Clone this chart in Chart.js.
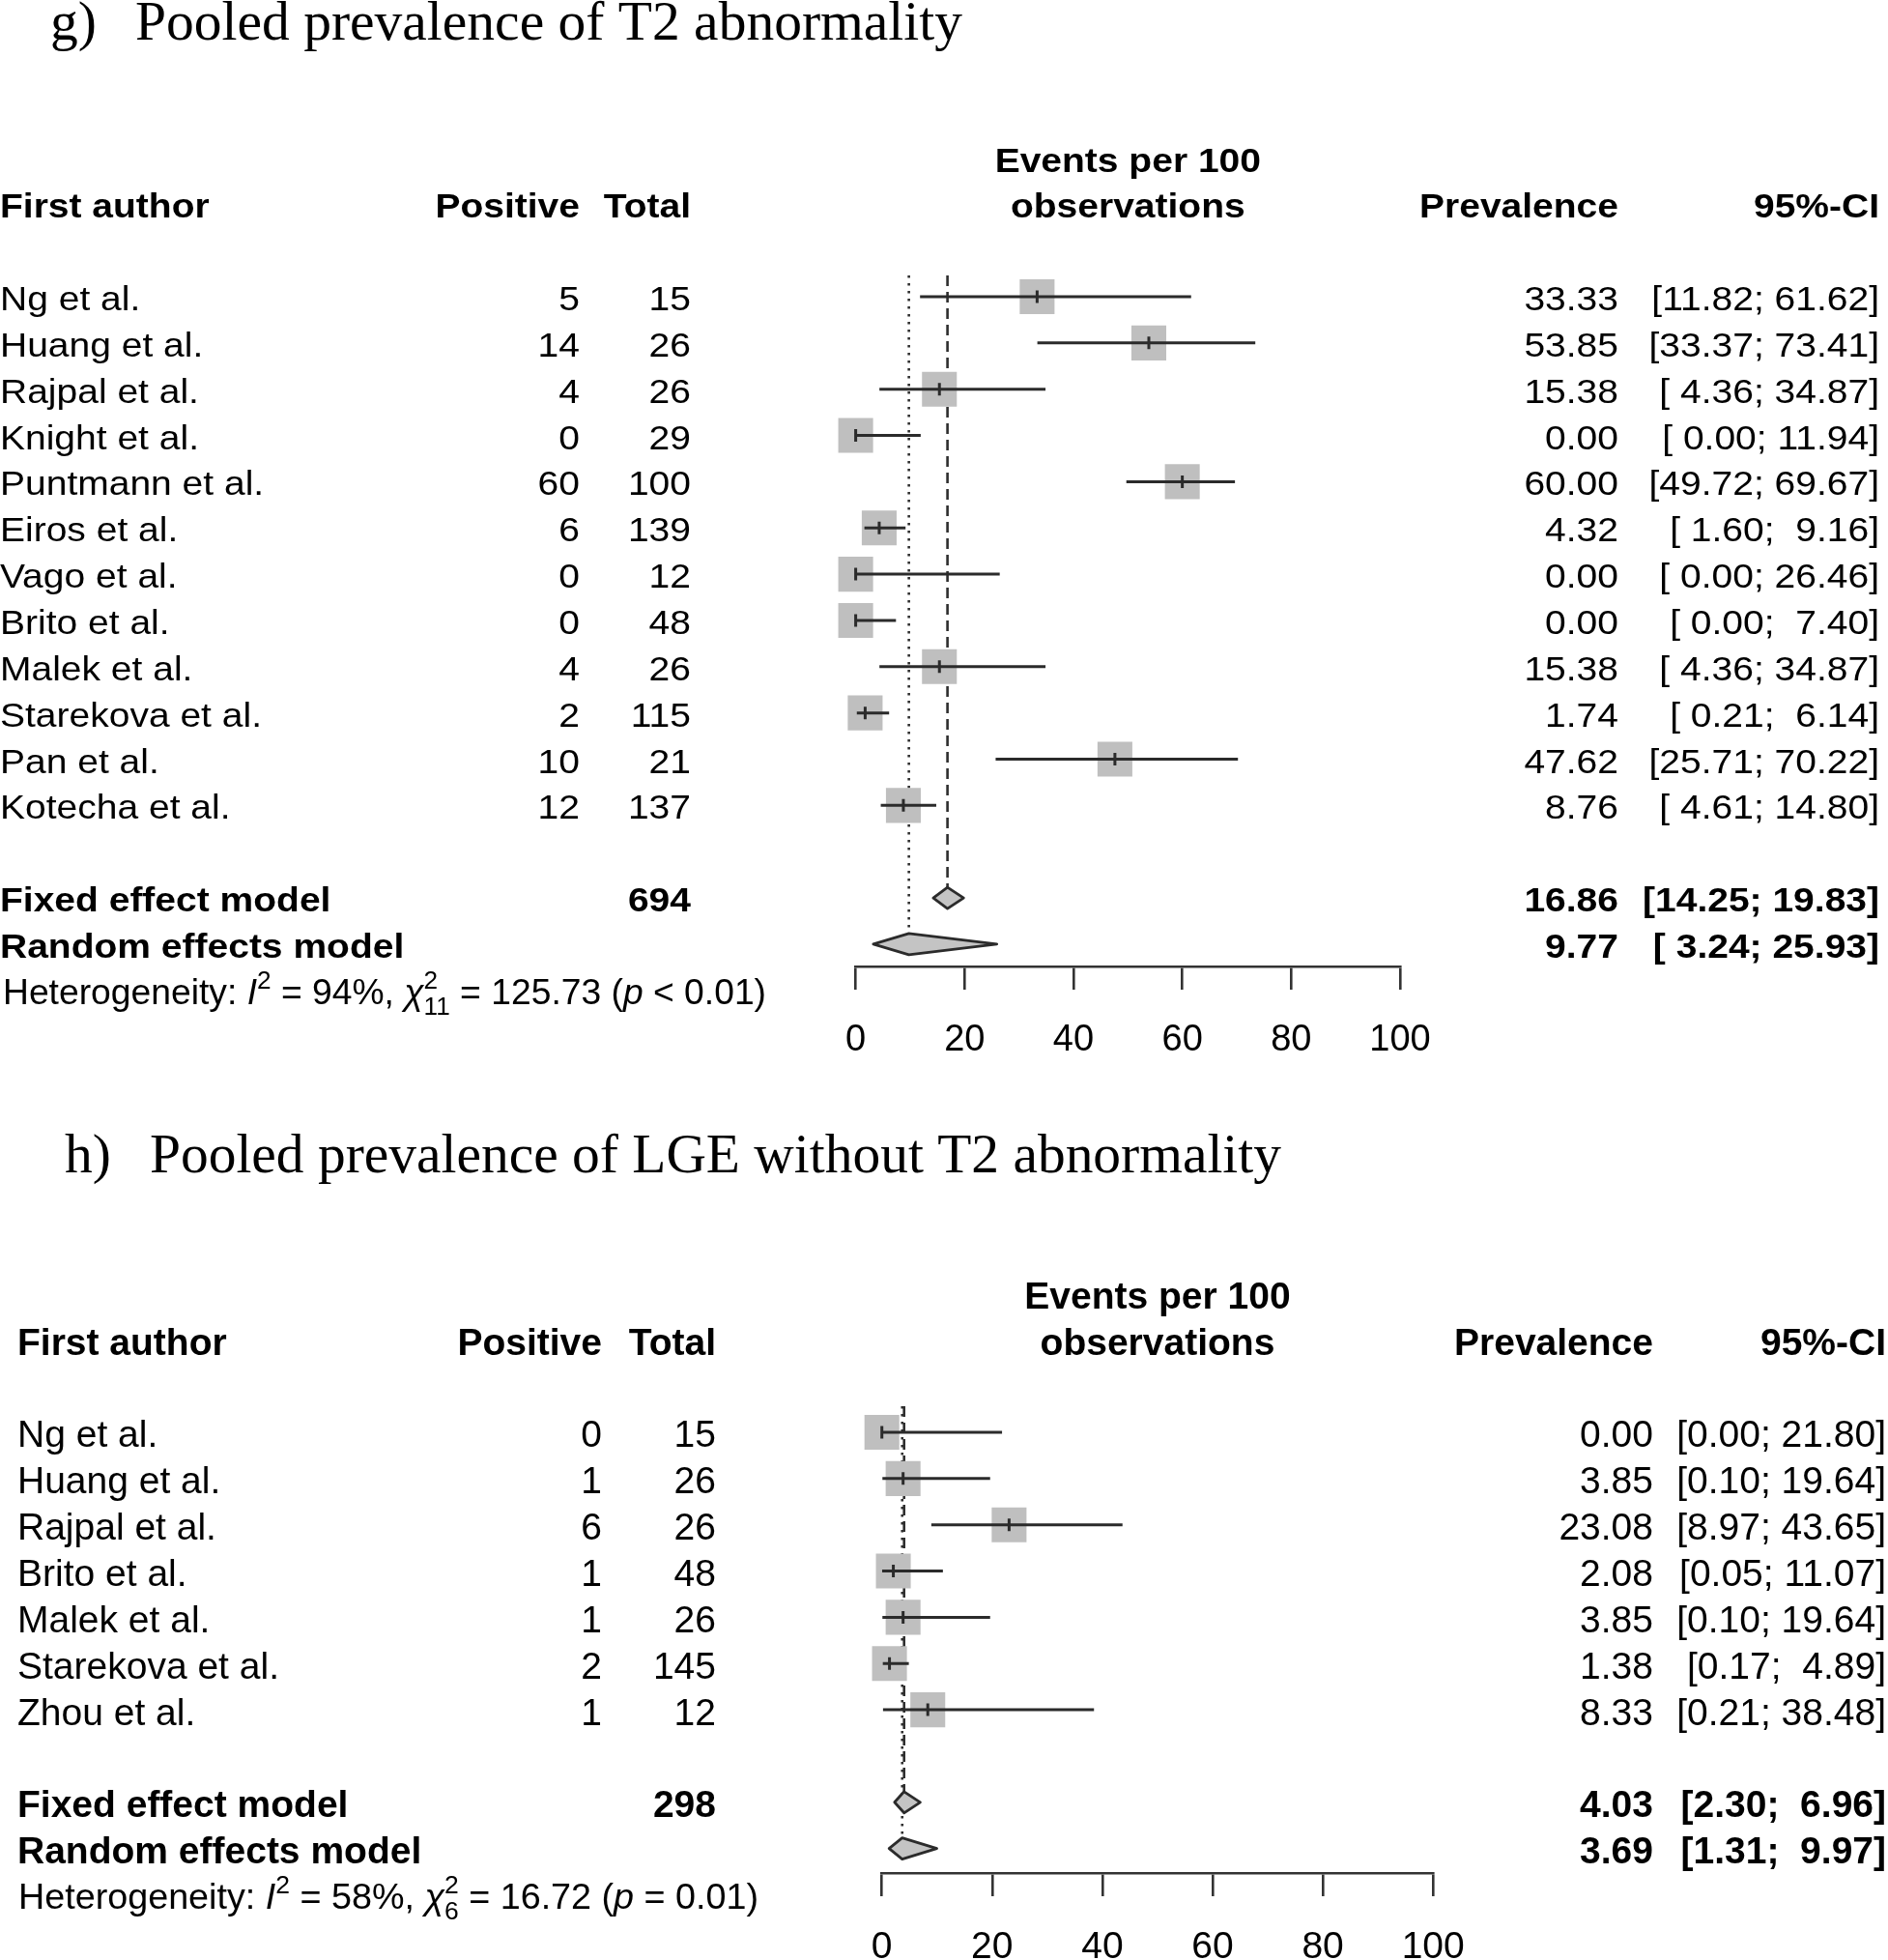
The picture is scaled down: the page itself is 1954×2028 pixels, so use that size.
<!DOCTYPE html>
<html>
<head>
<meta charset="utf-8">
<script src="https://cdn.jsdelivr.net/npm/chart.js@4.4.1/dist/chart.umd.min.js"></script>
<style>
  html, body { margin: 0; padding: 0; background: #fff; }
  #wrap { position: relative; width: 1954px; height: 2028px; overflow: hidden; }
  canvas { position: absolute; left: 0; top: 0; }
</style>
</head>
<body>
<div id="wrap">
  <canvas id="chartG" width="1954" height="2028"></canvas>
  <canvas id="chartH" width="1954" height="2028"></canvas>
</div>
<script>
// --- g) T2 abnormality ---
const authorsG = ['Ng et al.', 'Huang et al.', 'Rajpal et al.', 'Knight et al.', 'Puntmann et al.', 'Eiros et al.',
                  'Vago et al.', 'Brito et al.', 'Malek et al.', 'Starekova et al.', 'Pan et al.', 'Kotecha et al.'];
const positiveG = [5, 14, 4, 0, 60, 6, 0, 0, 4, 2, 10, 12];
const totalG = [15, 26, 26, 29, 100, 139, 12, 48, 26, 115, 21, 137];
const prevG = [33.33, 53.85, 15.38, 0.00, 60.00, 4.32, 0.00, 0.00, 15.38, 1.74, 47.62, 8.76];
const lowerG = [11.82, 33.37, 4.36, 0.00, 49.72, 1.60, 0.00, 0.00, 4.36, 0.21, 25.71, 4.61];
const upperG = [61.62, 73.41, 34.87, 11.94, 69.67, 9.16, 26.46, 7.40, 34.87, 6.14, 70.22, 14.80];
const fixedG = [16.86, 14.25, 19.83];
const randomG = [9.77, 3.24, 25.93];
const sumG = 694;
const hetG = ['94%', '11', '125.73', '< 0.01'];

// --- h) LGE without T2 abnormality ---
const authorsH = ['Ng et al.', 'Huang et al.', 'Rajpal et al.', 'Brito et al.', 'Malek et al.', 'Starekova et al.', 'Zhou et al.'];
const positiveH = [0, 1, 6, 1, 1, 2, 1];
const totalH = [15, 26, 26, 48, 26, 145, 12];
const prevH = [0.00, 3.85, 23.08, 2.08, 3.85, 1.38, 8.33];
const lowerH = [0.00, 0.10, 8.97, 0.05, 0.10, 0.17, 0.21];
const upperH = [21.80, 19.64, 43.65, 11.07, 19.64, 4.89, 38.48];
const fixedH = [4.03, 2.30, 6.96];
const randomH = [3.69, 1.31, 9.97];
const sumH = 298;
const hetH = ['58%', '6', '16.72', '= 0.01'];

const axisTicks = [0, 20, 40, 60, 80, 100];

const SANS = '"Liberation Sans", Arial, sans-serif';
const SERIF = '"Liberation Serif", "Times New Roman", serif';
const W = 1954, H = 2028;

// panel layout (pixels)
const layoutG = {
  left: 885.6, right: 1449, top: 285, axisY: 1000, firstRow: 307, rowH: 47.85,
  name: 0, pos: 600, tot: 715, prev: 1675, ci: 1945,
  font: 39, sy: 0.9, tickFont: 38, hetFont: 37, hetX: 3, hetW: 790,
  titleSize: 57, titleX1: 52, titleX2: 140, titleY: 41, titleW: 856
};
const layoutH = {
  left: 912.7, right: 1483.2, top: 1455, axisY: 1938, firstRow: 1482, rowH: 47.85,
  name: 18, pos: 623, tot: 741, prev: 1711, ci: 1952,
  font: 39, sy: 1, tickFont: 39, hetFont: 37, hetX: 19, hetW: 766,
  titleSize: 57, titleX1: 67, titleX2: 155, titleY: 1213, titleW: 1171
};

function drawText(ctx, s, x, y, o) {
  ctx.save();
  ctx.font = (o.style ? o.style + ' ' : '') + (o.weight ? o.weight + ' ' : '') + o.size + 'px ' + (o.family || SANS);
  ctx.fillStyle = '#000';
  ctx.textAlign = o.align || 'left';
  ctx.textBaseline = 'alphabetic';
  ctx.translate(x, y);
  ctx.scale(o.sx || 1, o.sy || 1);
  ctx.fillText(s, 0, 0);
  ctx.restore();
}

function drawHet(ctx, x, y, het, size, target, sy) {
  const small = Math.round(size * 0.7);
  const f = (st, s) => (st ? st + ' ' : '') + s + 'px ' + SANS;
  const items = [
    { t: 'Heterogeneity: ', f: f('', size) },
    { t: 'I', f: f('italic', size) },
    { sup: '2' },
    { t: ' = ' + het[0] + ', ', f: f('', size) },
    { t: '\u03c7', f: f('italic', size) },
    { sup: '2', sub: het[1] },
    { t: ' = ' + het[2] + ' (', f: f('', size) },
    { t: 'p', f: f('italic', size) },
    { t: ' ' + het[3] + ')', f: f('', size) }
  ];
  let total = 0;
  items.forEach(it => {
    if (it.t !== undefined) { ctx.font = it.f; it.w = ctx.measureText(it.t).width; }
    else {
      ctx.font = f('', small);
      it.w = Math.max(ctx.measureText(it.sup).width, it.sub ? ctx.measureText(it.sub).width : 0);
    }
    total += it.w;
  });
  const sx = target / total;
  ctx.save();
  ctx.translate(x, y);
  ctx.scale(sx, sy);
  ctx.fillStyle = '#000';
  ctx.textBaseline = 'alphabetic';
  ctx.textAlign = 'left';
  let cx = 0;
  items.forEach(it => {
    if (it.t !== undefined) { ctx.font = it.f; ctx.fillText(it.t, cx, 0); }
    else {
      ctx.font = f('', small);
      ctx.fillText(it.sup, cx, -size * 0.42);
      if (it.sub) ctx.fillText(it.sub, cx, size * 0.3);
    }
    cx += it.w;
  });
  ctx.restore();
}

// R style "[ 4.36; 34.87]" formatting
function ciText(lo, hi, wLo, wHi) {
  return '[' + lo.toFixed(2).padStart(wLo) + '; ' + hi.toFixed(2).padStart(wHi) + ']';
}

function forestPlugin(P, L) {
  const n = P.authors.length;
  const DH = 11;
  const allLo = P.lower.concat([P.fixed[1], P.random[1]]);
  const allHi = P.upper.concat([P.fixed[2], P.random[2]]);
  const wLo = Math.max(...allLo.map(v => v.toFixed(2).length));
  const wHi = Math.max(...allHi.map(v => v.toFixed(2).length));

  return {
    id: 'forest' + P.key,
    beforeDatasetsDraw(chart) {
      const { ctx, chartArea } = chart;
      const xs = chart.scales.x, ys = chart.scales.y;
      const refs = [
        { est: P.fixed[0], row: n + 1, dash: [11, 6] },
        { est: P.random[0], row: n + 2, dash: [2.5, 5.5] }
      ];
      ctx.save();
      ctx.strokeStyle = '#2e2e2e';
      ctx.lineWidth = 2.6;
      refs.forEach(r => {
        const x = xs.getPixelForValue(r.est);
        ctx.setLineDash(r.dash);
        ctx.beginPath();
        ctx.moveTo(x, chartArea.top);
        ctx.lineTo(x, ys.getPixelForValue(r.row) - DH);
        ctx.stroke();
      });
      ctx.restore();
    },
    afterDatasetsDraw(chart) {
      const ctx = chart.ctx;
      const xs = chart.scales.x, ys = chart.scales.y;
      ctx.save();
      ctx.strokeStyle = '#2b2b2b';
      ctx.lineWidth = 3;
      for (let i = 0; i < n; i++) {
        const y = ys.getPixelForValue(i);
        ctx.beginPath();
        ctx.moveTo(xs.getPixelForValue(P.lower[i]), y);
        ctx.lineTo(xs.getPixelForValue(P.upper[i]), y);
        const xe = xs.getPixelForValue(P.prev[i]);
        ctx.moveTo(xe, y - 6.5);
        ctx.lineTo(xe, y + 6.5);
        ctx.stroke();
      }
      ctx.lineWidth = 2.8;
      ctx.lineJoin = 'round';
      [[P.fixed, n + 1], [P.random, n + 2]].forEach(([m, row]) => {
        const y = ys.getPixelForValue(row);
        const xe = xs.getPixelForValue(m[0]);
        ctx.beginPath();
        ctx.moveTo(xs.getPixelForValue(m[1]), y);
        ctx.lineTo(xe, y - DH);
        ctx.lineTo(xs.getPixelForValue(m[2]), y);
        ctx.lineTo(xe, y + DH);
        ctx.closePath();
        ctx.fillStyle = '#c4c4c4';
        ctx.fill();
        ctx.stroke();
      });
      ctx.restore();
    },
    afterDraw(chart) {
      const ctx = chart.ctx;
      const xs = chart.scales.x, ys = chart.scales.y;
      const fs = L.font, sy = L.sy;
      const base = r => ys.getPixelForValue(r) + 0.716 * fs * sy / 2 + 1.5;
      const reg = { size: fs, sy: sy };
      const bold = { size: fs, sy: sy, weight: 'bold' };

      // title
      ctx.font = L.titleSize + 'px ' + SERIF;
      const tsx = L.titleW / ctx.measureText(P.title).width;
      drawText(ctx, P.titleLabel, L.titleX1, L.titleY, { family: SERIF, size: L.titleSize, sx: tsx });
      drawText(ctx, P.title, L.titleX2, L.titleY, { family: SERIF, size: L.titleSize, sx: tsx });

      // headers
      const mid = xs.getPixelForValue(50);
      drawText(ctx, 'Events per 100', mid, base(-3), { ...bold, align: 'center' });
      drawText(ctx, 'observations', mid, base(-2), { ...bold, align: 'center' });
      drawText(ctx, 'First author', L.name, base(-2), bold);
      drawText(ctx, 'Positive', L.pos, base(-2), { ...bold, align: 'right' });
      drawText(ctx, 'Total', L.tot, base(-2), { ...bold, align: 'right' });
      drawText(ctx, 'Prevalence', L.prev, base(-2), { ...bold, align: 'right' });
      drawText(ctx, '95%-CI', L.ci, base(-2), { ...bold, align: 'right' });

      // study rows
      for (let i = 0; i < n; i++) {
        const y = base(i);
        drawText(ctx, P.authors[i], L.name, y, reg);
        drawText(ctx, String(P.positive[i]), L.pos, y, { ...reg, align: 'right' });
        drawText(ctx, String(P.total[i]), L.tot, y, { ...reg, align: 'right' });
        drawText(ctx, P.prev[i].toFixed(2), L.prev, y, { ...reg, align: 'right' });
        drawText(ctx, ciText(P.lower[i], P.upper[i], wLo, wHi), L.ci, y, { ...reg, align: 'right' });
      }

      // pooled rows
      const yf = base(n + 1), yr = base(n + 2);
      drawText(ctx, 'Fixed effect model', L.name, yf, bold);
      drawText(ctx, String(P.sum), L.tot, yf, { ...bold, align: 'right' });
      drawText(ctx, P.fixed[0].toFixed(2), L.prev, yf, { ...bold, align: 'right' });
      drawText(ctx, ciText(P.fixed[1], P.fixed[2], wLo, wHi), L.ci, yf, { ...bold, align: 'right' });
      drawText(ctx, 'Random effects model', L.name, yr, bold);
      drawText(ctx, P.random[0].toFixed(2), L.prev, yr, { ...bold, align: 'right' });
      drawText(ctx, ciText(P.random[1], P.random[2], wLo, wHi), L.ci, yr, { ...bold, align: 'right' });

      drawHet(ctx, L.hetX, ys.getPixelForValue(n + 3) + 0.716 * L.hetFont / 2 + 1, P.het, L.hetFont, L.hetW, 1);
    }
  };
}

function makeChart(id, P, L) {
  return new Chart(document.getElementById(id), {
    type: 'scatter',
    data: {
      datasets: [{
        data: P.prev.map((v, i) => ({ x: v, y: i })),
        pointStyle: 'rect',
        pointRadius: 25.5,
        pointHoverRadius: 25.5,
        backgroundColor: '#bfbfbf',
        borderWidth: 0,
        clip: false
      }]
    },
    options: {
      responsive: false,
      animation: false,
      events: [],
      layout: {
        padding: { left: L.left, right: W - L.right, top: L.top, bottom: H - L.axisY - 90 }
      },
      plugins: { legend: { display: false }, tooltip: { enabled: false } },
      scales: {
        x: {
          type: 'linear', position: 'bottom', min: 0, max: 100,
          afterFit: s => { s.height = 90; },
          afterBuildTicks: s => { s.ticks = axisTicks.map(v => ({ value: v })); },
          ticks: { color: '#000', padding: 30, font: { family: SANS, size: L.tickFont } },
          grid: { drawOnChartArea: false, drawTicks: true, tickLength: 24, color: '#333', lineWidth: 2.6 },
          border: { display: true, color: '#333', width: 2.6 }
        },
        y: {
          type: 'linear', display: false, reverse: true,
          min: (L.top - L.firstRow) / L.rowH,
          max: (L.axisY - L.firstRow) / L.rowH
        }
      }
    },
    plugins: [forestPlugin(P, L)]
  });
}

makeChart('chartG', {
  key: 'G', titleLabel: 'g)', title: 'Pooled prevalence of T2 abnormality',
  authors: authorsG, positive: positiveG, total: totalG, prev: prevG, lower: lowerG, upper: upperG,
  fixed: fixedG, random: randomG, sum: sumG, het: hetG
}, layoutG);

makeChart('chartH', {
  key: 'H', titleLabel: 'h)', title: 'Pooled prevalence of LGE without T2 abnormality',
  authors: authorsH, positive: positiveH, total: totalH, prev: prevH, lower: lowerH, upper: upperH,
  fixed: fixedH, random: randomH, sum: sumH, het: hetH
}, layoutH);
</script>
</body>
</html>
